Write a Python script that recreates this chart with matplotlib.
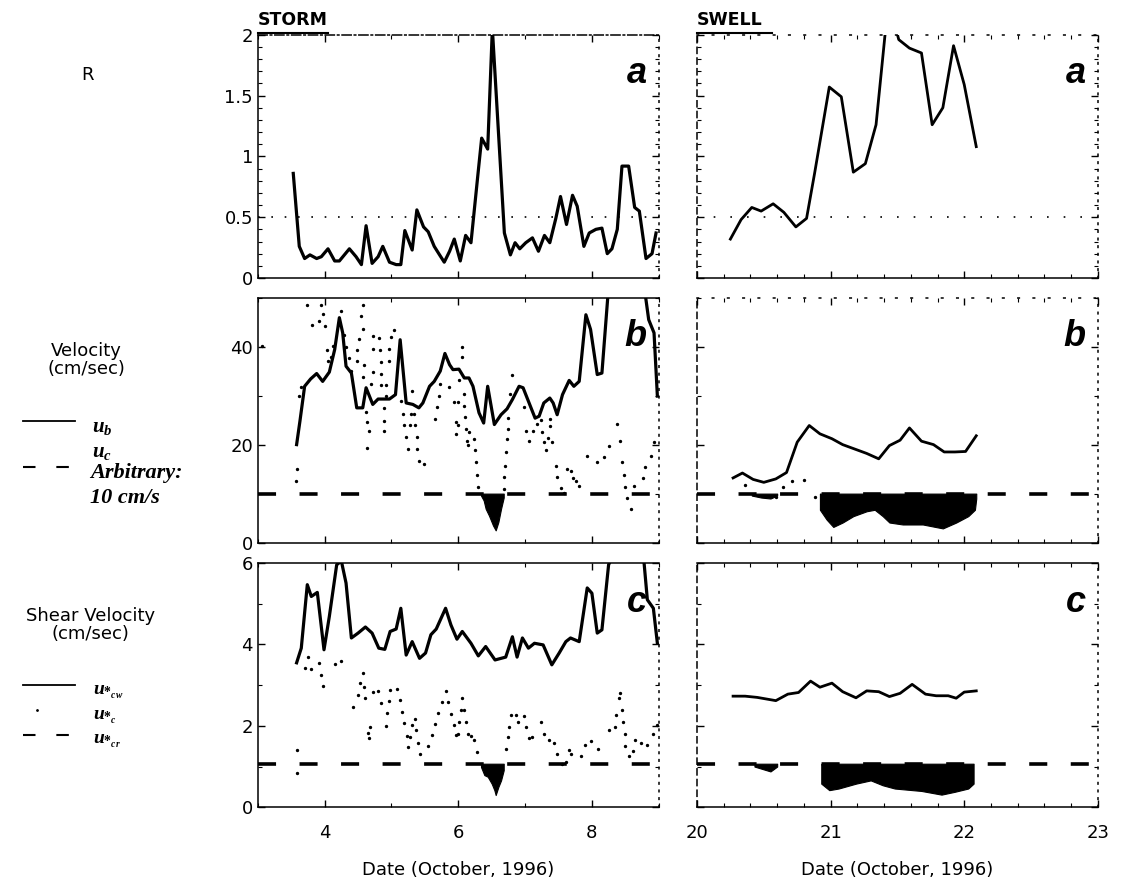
import matplotlib
matplotlib.use("Agg")
import matplotlib.pyplot as plt
from matplotlib.ticker import MultipleLocator, NullFormatter

plt.rcParams['font.family'] = ['DejaVu Sans']
plt.rcParams['mathtext.fontset'] = 'custom'
plt.rcParams['mathtext.it'] = 'Liberation Serif:italic:bold'
plt.rcParams['mathtext.rm'] = 'Liberation Serif:bold'

# ---- storm (Oct 3-9) ----
storm_R_t = [3.53, 3.62, 3.70, 3.78, 3.88, 3.95, 4.05, 4.15, 4.22, 4.37, 4.47, 4.55, 4.62, 4.71,
             4.80, 4.87, 4.97, 5.07, 5.14, 5.20, 5.31, 5.38, 5.48, 5.55, 5.64, 5.72, 5.79, 5.87,
             5.94, 6.03, 6.11, 6.19, 6.29, 6.35, 6.44, 6.51, 6.69, 6.78, 6.85, 6.92, 7.01, 7.11,
             7.20, 7.29, 7.37, 7.46, 7.53, 7.62, 7.71, 7.78, 7.88, 7.96, 8.06, 8.15, 8.23, 8.30,
             8.38, 8.45, 8.55, 8.64, 8.71, 8.81, 8.90, 8.96]
storm_R = [0.86, 0.26, 0.16, 0.19, 0.16, 0.175, 0.24, 0.14, 0.14, 0.24, 0.175, 0.11, 0.43, 0.12,
           0.175, 0.26, 0.13, 0.11, 0.11, 0.39, 0.23, 0.56, 0.42, 0.38, 0.26, 0.19, 0.13, 0.22,
           0.32, 0.14, 0.35, 0.29, 0.83, 1.15, 1.06, 2.05, 0.37, 0.19, 0.29, 0.24, 0.29, 0.33,
           0.22, 0.35, 0.29, 0.49, 0.67, 0.44, 0.68, 0.59, 0.26, 0.37, 0.40, 0.41, 0.20, 0.24,
           0.40, 0.92, 0.92, 0.58, 0.55, 0.16, 0.20, 0.37]

storm_ub_t = [3.58, 3.63, 3.70, 3.79, 3.88, 3.97, 4.07, 4.15, 4.22, 4.27, 4.32, 4.40, 4.48, 4.57,
              4.62, 4.72, 4.80, 4.97, 5.06, 5.13, 5.22, 5.32, 5.41, 5.47, 5.57, 5.64, 5.73, 5.80,
              5.87, 5.92, 6.01, 6.09, 6.16, 6.22, 6.31, 6.38, 6.44, 6.54, 6.64, 6.73, 6.81, 6.91,
              6.97, 7.06, 7.15, 7.21, 7.28, 7.37, 7.42, 7.48, 7.56, 7.66, 7.73, 7.81, 7.91, 7.98,
              8.08, 8.15, 8.24, 8.50, 8.80, 8.85, 8.93, 8.98]
storm_ub = [20.0, 24.8, 31.9, 33.4, 34.5, 32.9, 34.8, 39.4, 45.9, 42.8, 36.0, 34.6, 27.5, 27.5,
            31.6, 28.2, 29.3, 29.3, 30.2, 41.4, 28.5, 28.2, 27.5, 28.5, 31.9, 32.9, 35.0, 38.6,
            36.3, 35.3, 35.4, 33.6, 33.6, 31.9, 26.5, 24.4, 31.9, 24.1, 26.1, 27.3, 29.2, 31.9,
            31.6, 28.5, 25.4, 25.8, 28.5, 29.5, 28.5, 26.1, 30.2, 33.1, 31.9, 32.9, 46.5, 43.5,
            34.3, 34.6, 50.5, 62.0, 50.5, 45.5, 42.8, 29.9]

storm_uc_t = [3.06, 3.57, 3.59, 3.62, 3.64, 3.74, 3.81, 3.92, 3.95, 3.97, 4.00, 4.03, 4.05, 4.09,
              4.12, 4.25, 4.29, 4.32, 4.37, 4.39, 4.48, 4.49, 4.52, 4.55, 4.57, 4.58, 4.58, 4.59,
              4.62, 4.64, 4.64, 4.66, 4.69, 4.72, 4.72, 4.73, 4.82, 4.83, 4.84, 4.85, 4.85, 4.89,
              4.89, 4.89, 4.92, 4.92, 4.97, 4.97, 4.99, 5.04, 5.14, 5.17, 5.19, 5.21, 5.24, 5.28,
              5.29, 5.31, 5.34, 5.35, 5.38, 5.38, 5.41, 5.49, 5.65, 5.68, 5.71, 5.73, 5.86, 5.94,
              5.96, 5.97, 5.99, 6.00, 6.01, 6.05, 6.05, 6.08, 6.09, 6.10, 6.11, 6.13, 6.14, 6.16,
              6.23, 6.25, 6.26, 6.28, 6.29, 6.68, 6.69, 6.70, 6.71, 6.73, 6.74, 6.75, 6.78, 6.81,
              6.98, 7.02, 7.06, 7.12, 7.18, 7.24, 7.26, 7.28, 7.31, 7.34, 7.37, 7.38, 7.41, 7.46,
              7.48, 7.53, 7.58, 7.62, 7.68, 7.71, 7.76, 7.81, 7.93, 8.08, 8.18, 8.25, 8.38, 8.42,
              8.45, 8.48, 8.49, 8.53, 8.58, 8.63, 8.77, 8.80, 8.88, 8.93]
storm_uc = [40.2, 12.6, 15.0, 29.9, 31.7, 48.5, 44.4, 45.3, 48.5, 46.7, 44.2, 39.4, 37.1, 37.8,
            40.2, 47.2, 42.4, 39.9, 37.6, 35.1, 37.0, 39.4, 41.6, 46.2, 48.4, 43.6, 33.7, 36.3,
            26.6, 24.6, 19.4, 22.8, 32.4, 34.9, 39.5, 42.1, 41.7, 39.4, 36.8, 34.4, 32.2, 27.4,
            24.9, 22.7, 32.2, 30.0, 39.5, 37.1, 41.9, 43.3, 28.8, 26.3, 23.9, 21.5, 19.1, 24.0,
            26.3, 30.9, 26.3, 24.0, 21.5, 19.1, 16.7, 16.0, 25.2, 27.6, 30.0, 32.4, 31.7, 28.6,
            22.2, 24.6, 28.6, 23.9, 33.1, 39.9, 37.8, 30.4, 27.9, 25.6, 23.2, 20.8, 20.0, 22.5,
            21.2, 18.8, 16.4, 13.7, 11.3, 11.0, 13.3, 15.7, 18.4, 21.2, 23.2, 25.4, 30.4, 34.2,
            27.6, 22.8, 20.7, 22.8, 24.2, 25.1, 22.5, 20.5, 18.8, 21.4, 23.7, 25.2, 20.5, 15.7,
            13.3, 11.1, 10.2, 15.0, 14.7, 13.1, 12.6, 11.6, 17.7, 16.4, 17.4, 19.8, 24.2, 20.8,
            16.4, 13.7, 11.3, 9.2, 6.8, 11.6, 13.1, 15.4, 17.7, 20.5]

storm_ucw_t = [3.58, 3.65, 3.74, 3.80, 3.89, 3.99, 4.07, 4.18, 4.25, 4.32, 4.40, 4.50, 4.61, 4.71,
               4.81, 4.90, 4.98, 5.07, 5.14, 5.22, 5.31, 5.42, 5.51, 5.59, 5.67, 5.81, 5.89, 5.98,
               6.06, 6.19, 6.30, 6.41, 6.55, 6.71, 6.81, 6.88, 6.96, 7.05, 7.14, 7.27, 7.40, 7.51,
               7.61, 7.68, 7.81, 7.93, 8.00, 8.08, 8.15, 8.25, 8.29, 8.50, 8.78, 8.83, 8.92, 8.98]
storm_ucw = [3.55, 3.91, 5.47, 5.18, 5.28, 3.87, 4.69, 5.96, 6.05, 5.51, 4.16, 4.28, 4.43, 4.28,
             3.91, 3.88, 4.32, 4.38, 4.89, 3.74, 4.07, 3.66, 3.79, 4.24, 4.38, 4.89, 4.48, 4.13,
             4.32, 4.03, 3.72, 3.95, 3.62, 3.69, 4.19, 3.69, 4.16, 3.91, 4.03, 3.99, 3.50, 3.79,
             4.07, 4.16, 4.07, 5.39, 5.26, 4.28, 4.36, 5.96, 6.10, 7.00, 6.02, 5.10, 4.89, 4.03]

storm_usc_t = [3.58, 3.59, 3.71, 3.75, 3.80, 3.91, 3.94, 3.98, 4.16, 4.24, 4.43, 4.50, 4.53, 4.57,
               4.59, 4.61, 4.65, 4.67, 4.68, 4.73, 4.80, 4.84, 4.92, 4.94, 4.96, 4.98, 5.09, 5.13,
               5.16, 5.19, 5.23, 5.25, 5.27, 5.30, 5.35, 5.36, 5.39, 5.42, 5.54, 5.60, 5.65, 5.70,
               5.75, 5.81, 5.85, 5.89, 5.93, 5.97, 5.99, 6.01, 6.04, 6.06, 6.09, 6.11, 6.14, 6.19,
               6.24, 6.28, 6.71, 6.74, 6.76, 6.79, 6.86, 6.90, 6.98, 7.02, 7.06, 7.11, 7.24, 7.29,
               7.36, 7.43, 7.48, 7.55, 7.61, 7.66, 7.69, 7.84, 7.89, 7.98, 8.09, 8.25, 8.34, 8.36,
               8.41, 8.42, 8.45, 8.47, 8.49, 8.50, 8.56, 8.62, 8.65, 8.73, 8.83, 8.92, 8.97]
storm_usc = [0.85, 1.40, 3.43, 3.70, 3.40, 3.54, 3.25, 2.98, 3.51, 3.60, 2.47, 2.76, 3.05, 3.29,
             2.96, 2.68, 1.82, 1.70, 1.98, 2.84, 2.86, 2.57, 2.00, 2.31, 2.60, 2.88, 2.90, 2.64,
             2.33, 2.06, 1.75, 1.49, 1.73, 2.02, 2.17, 1.90, 1.59, 1.32, 1.50, 1.77, 2.04, 2.31,
             2.59, 2.86, 2.58, 2.29, 2.02, 1.77, 1.81, 2.10, 2.39, 2.68, 2.39, 2.09, 1.80, 1.75,
             1.65, 1.35, 1.43, 1.72, 1.98, 2.26, 2.26, 2.10, 2.25, 1.98, 1.69, 1.73, 2.10, 1.81,
             1.65, 1.58, 1.31, 1.06, 1.12, 1.40, 1.31, 1.26, 1.53, 1.63, 1.43, 1.91, 1.98, 2.26,
             2.68, 2.82, 2.39, 2.09, 1.80, 1.51, 1.26, 1.38, 1.66, 1.58, 1.54, 1.81, 2.02]

# region where the current drops under the threshold (lower edge)
storm_b_low_t = [6.34, 6.38, 6.41, 6.46, 6.52, 6.56, 6.60, 6.64, 6.68]
storm_b_low = [9.6, 8.6, 6.9, 5.5, 3.5, 2.5, 4.2, 6.9, 9.2]
storm_c_low_t = [6.34, 6.39, 6.44, 6.50, 6.54, 6.56, 6.60, 6.64, 6.68]
storm_c_low = [0.99, 0.79, 0.75, 0.58, 0.42, 0.30, 0.50, 0.66, 0.91]

# ---- swell (Oct 20-23) ----
swell_R_t = [20.25, 20.33, 20.41, 20.48, 20.57, 20.65, 20.74, 20.82, 20.88, 20.99, 21.08, 21.17,
             21.26, 21.34, 21.41, 21.44, 21.51, 21.59, 21.68, 21.76, 21.84, 21.92, 22.00, 22.09]
swell_R = [0.32, 0.48, 0.58, 0.55, 0.61, 0.54, 0.42, 0.49, 0.86, 1.57, 1.49, 0.87,
           0.94, 1.26, 2.03, 2.25, 1.96, 1.89, 1.85, 1.26, 1.40, 1.91, 1.59, 1.08]

swell_ub_t = [20.27, 20.34, 20.42, 20.50, 20.59, 20.67, 20.75, 20.84, 20.92, 21.01, 21.09, 21.18,
              21.27, 21.36, 21.44, 21.52, 21.59, 21.68, 21.77, 21.85, 21.93, 22.01, 22.09]
swell_ub = [13.2, 14.2, 12.9, 12.3, 13.0, 14.3, 20.5, 23.9, 22.2, 21.2, 20.0, 19.1,
            18.2, 17.1, 19.8, 20.9, 23.4, 20.7, 20.0, 18.5, 18.5, 18.6, 21.8]

swell_uc_t = [20.36, 20.59, 20.64, 20.71, 20.80, 20.88]
swell_uc = [11.8, 9.3, 11.4, 12.5, 12.7, 9.3]

swell_ucw_t = [20.27, 20.36, 20.45, 20.52, 20.59, 20.68, 20.76, 20.85, 20.92, 21.01, 21.09, 21.19,
               21.27, 21.36, 21.44, 21.52, 21.61, 21.71, 21.79, 21.88, 21.94, 22.00, 22.09]
swell_ucw = [2.73, 2.73, 2.70, 2.66, 2.62, 2.78, 2.82, 3.10, 2.95, 3.05, 2.84, 2.69,
             2.86, 2.84, 2.72, 2.80, 3.02, 2.78, 2.74, 2.74, 2.68, 2.83, 2.86]

swell_b_low_t = [20.92, 20.97, 21.02, 21.09, 21.17, 21.27, 21.33, 21.39, 21.44, 21.54, 21.69,
                 21.84, 21.94, 22.03, 22.08, 22.09]
swell_b_low = [6.7, 4.7, 3.2, 4.1, 5.4, 6.4, 6.7, 5.4, 4.1, 3.7, 3.7, 2.9, 4.1, 5.4, 6.7, 9.0]
swell_b_small_t = [20.41, 20.48, 20.55, 20.60]
swell_b_small = [9.6, 9.2, 9.0, 9.6]
swell_c_low_t = [20.93, 20.99, 21.06, 21.19, 21.30, 21.39, 21.48, 21.68, 21.83, 21.93, 22.03, 22.07]
swell_c_low = [0.58, 0.42, 0.46, 0.58, 0.66, 0.54, 0.46, 0.40, 0.31, 0.38, 0.46, 0.58]
swell_c_small_t = [20.43, 20.50, 20.55, 20.60]
swell_c_small = [1.0, 0.93, 0.88, 1.0]

ub_threshold = 10.0
usc_threshold = 1.07

fig = plt.figure(figsize=(11.26, 8.91), dpi=100)

xl, wl = 0.229, 0.356
xr, wr = 0.619, 0.356
rows = [(0.688, 0.273), (0.391, 0.275), (0.094, 0.274)]

axes = {}
for i, (y0, h) in enumerate(rows):
    axes[(i, 0)] = fig.add_axes([xl, y0, wl, h])
    axes[(i, 1)] = fig.add_axes([xr, y0, wr, h])

lw = 2.3
dash = dict(ls=(0, (5, 6.5)), lw=2.6, color='black')
dots = dict(ls='none', marker='.', ms=2.8, color='black')

def style(ax, ylim, ymaj, ymin, xlim, xmaj, xmin, left_labels, bottom_labels):
    ax.set_xlim(*xlim)
    ax.set_ylim(*ylim)
    ax.yaxis.set_major_locator(MultipleLocator(ymaj))
    ax.yaxis.set_minor_locator(MultipleLocator(ymin))
    ax.xaxis.set_major_locator(MultipleLocator(xmaj))
    ax.xaxis.set_minor_locator(MultipleLocator(xmin))
    ax.tick_params(which='both', direction='in', top=True, right=True, labelsize=13)
    ax.tick_params(which='major', length=5, width=1)
    ax.tick_params(which='minor', length=3, width=0.8)
    if not left_labels:
        ax.yaxis.set_major_formatter(NullFormatter())
    if not bottom_labels:
        ax.xaxis.set_major_formatter(NullFormatter())
    else:
        ax.tick_params(axis='x', pad=12)
    for s in ax.spines.values():
        s.set_linewidth(1.1)
    ax.spines['right'].set_linestyle((0, (1, 4)))
    if not left_labels:
        ax.spines['left'].set_linestyle((0, (4, 3)))

# panel a
ax = axes[(0, 0)]
ax.plot(storm_R_t, storm_R, color='black', lw=lw)
ax.axhline(0.5, color='black', lw=1.2, ls=(0, (1, 7)))
style(ax, (0, 2), 0.5, 0.1, (3, 9), 2, 1, True, False)
ax.set_yticks([0, 0.5, 1, 1.5, 2])
ax.set_yticklabels(['0', '0.5', '1', '1.5', '2'])
ax.spines['top'].set_linestyle((0, (6, 2, 1, 2)))

ax = axes[(0, 1)]
ax.plot(swell_R_t, swell_R, color='black', lw=2.0)
ax.axhline(0.5, color='black', lw=1.2, ls=(0, (1, 9)))
style(ax, (0, 2), 0.5, 0.1, (20, 23), 1, 0.2, False, False)
ax.spines['top'].set_linestyle((0, (1, 9)))

# panel b
ax = axes[(1, 0)]
ax.fill_between(storm_b_low_t, storm_b_low, ub_threshold, color='black', lw=0.8)
ax.plot(storm_uc_t, storm_uc, **dots)
ax.plot(storm_ub_t, storm_ub, color='black', lw=lw)
ax.axhline(ub_threshold, **dash)
style(ax, (0, 50), 20, 10, (3, 9), 2, 1, True, False)

ax = axes[(1, 1)]
ax.fill_between(swell_b_low_t, swell_b_low, ub_threshold, color='black', lw=0.8)
ax.fill_between(swell_b_small_t, swell_b_small, ub_threshold, color='black', lw=0.8)
ax.plot(swell_uc_t, swell_uc, **dots)
ax.plot(swell_ub_t, swell_ub, color='black', lw=2.0)
ax.axhline(ub_threshold, **dash)
style(ax, (0, 50), 20, 10, (20, 23), 1, 0.2, False, False)
ax.spines['top'].set_linestyle((0, (1, 9)))

# panel c
ax = axes[(2, 0)]
ax.fill_between(storm_c_low_t, storm_c_low, usc_threshold, color='black', lw=0.8)
ax.plot(storm_usc_t, storm_usc, **dots)
ax.plot(storm_ucw_t, storm_ucw, color='black', lw=lw)
ax.axhline(usc_threshold, **dash)
style(ax, (0, 6), 2, 1, (3, 9), 2, 1, True, True)
ax.set_xlabel('Date (October, 1996)', fontsize=13, labelpad=14)

ax = axes[(2, 1)]
ax.fill_between(swell_c_low_t, swell_c_low, usc_threshold, color='black', lw=0.8)
ax.fill_between(swell_c_small_t, swell_c_small, usc_threshold, color='black', lw=0.8)
ax.plot(swell_ucw_t, swell_ucw, color='black', lw=2.0)
ax.axhline(usc_threshold, **dash)
style(ax, (0, 6), 2, 1, (20, 23), 1, 0.2, False, True)
ax.set_xlabel('Date (October, 1996)', fontsize=13, labelpad=14)

# panel letters
letter_kw = dict(fontsize=26, fontweight='bold', style='italic', ha='right', va='center',
                 family=['Liberation Sans', 'DejaVu Sans'])
for (i, j), ax in axes.items():
    ax.text(0.97, 0.84, 'abc'[i], transform=ax.transAxes, **letter_kw)

# column titles
fig.text(0.229, 0.967, 'STORM', fontsize=12.5, fontweight='bold', ha='left', va='bottom')
fig.text(0.619, 0.967, 'SWELL', fontsize=12.5, fontweight='bold', ha='left', va='bottom')
fig.add_artist(plt.Line2D([0.229, 0.291], [0.963, 0.963], color='black', lw=1.5))
fig.add_artist(plt.Line2D([0.619, 0.686], [0.963, 0.963], color='black', lw=1.5))

# left side labels and keys
fig.text(0.078, 0.916, 'R', fontsize=13, ha='center', va='center')
fig.text(0.077, 0.596, 'Velocity\n(cm/sec)', fontsize=13, ha='center', va='center',
         linespacing=1.0)
fig.add_artist(plt.Line2D([0.020, 0.067], [0.528, 0.528], color='black', lw=1.3))
fig.text(0.082, 0.521, r'$u_b$', fontsize=15, ha='left', va='center')
fig.text(0.082, 0.493, r'$u_c$', fontsize=15, ha='left', va='center')
fig.add_artist(plt.Line2D([0.020, 0.067], [0.476, 0.476], color='black', lw=1.5,
                          ls=(0, (6, 10))))
fig.text(0.080, 0.469, 'Arbitrary:', fontsize=16, ha='left', va='center',
         family='Liberation Serif', style='italic', fontweight='bold')
fig.text(0.080, 0.441, '10 cm/s', fontsize=16, ha='left', va='center',
         family='Liberation Serif', style='italic', fontweight='bold')

fig.text(0.080, 0.299, 'Shear Velocity\n(cm/sec)', fontsize=13, ha='center', va='center',
         linespacing=1.0)
fig.add_artist(plt.Line2D([0.020, 0.067], [0.231, 0.231], color='black', lw=1.3))
fig.text(0.083, 0.224, r'$u_{*_{cw}}$', fontsize=14, ha='left', va='center')
fig.add_artist(plt.Line2D([0.033], [0.203], color='black', marker='.', ms=2, ls='none'))
fig.text(0.083, 0.196, r'$u_{*_{c}}$', fontsize=14, ha='left', va='center')
fig.add_artist(plt.Line2D([0.020, 0.067], [0.175, 0.175], color='black', lw=1.5,
                          ls=(0, (6, 10))))
fig.text(0.083, 0.169, r'$u_{*_{cr}}$', fontsize=14, ha='left', va='center')

fig.savefig('out.png', dpi=100)
